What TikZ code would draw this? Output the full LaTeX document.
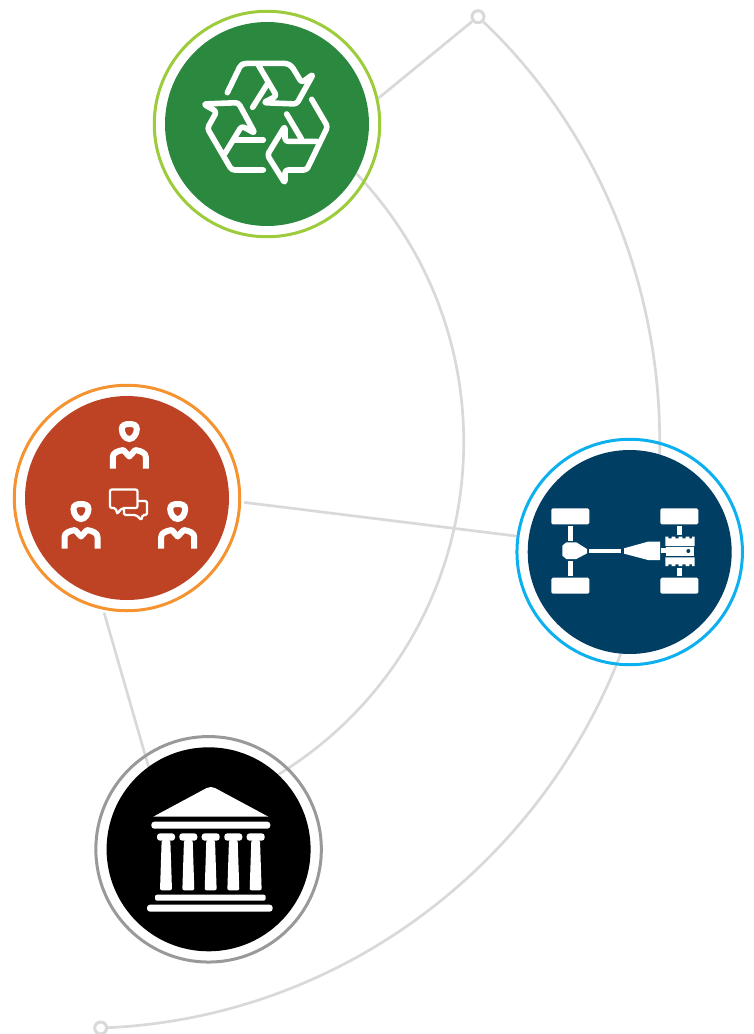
\documentclass[tikz,border=0pt]{standalone}
\usetikzlibrary{backgrounds}
\definecolor{linkgrey}{HTML}{D9D9D9}
\definecolor{leafgreen}{HTML}{2B883F}
\definecolor{leafring}{HTML}{9CCB3B}
\definecolor{brickred}{HTML}{BD4324}
\definecolor{brickring}{HTML}{F59331}
\definecolor{navyblue}{HTML}{003F63}
\definecolor{navyring}{HTML}{0DB0EE}
\definecolor{stonering}{HTML}{999999}
\tikzset{
	disc/.style={circle, fill=#1, minimum size=204pt, inner sep=0pt},
	ring/.style={circle, draw=#1, line width=3pt, minimum size=225.5pt, inner sep=0pt},
	link/.style={draw=linkgrey, line width=2.7pt},
	enddot/.style={circle, draw=linkgrey, fill=white, line width=3pt, minimum size=12pt, inner sep=0pt},
	iconline/.style={draw=white, line width=5.6pt, line cap=round, line join=round, rounded corners=3pt},
	iconfill/.style={fill=white, rounded corners=1.5pt}
}
\begin{document}
\begin{tikzpicture}[x=1pt, y=-1pt]
	\useasboundingbox (0,0) rectangle (753,1034);

	% rings and discs
	\node[ring=leafring] (recycleRing) at (267,124) {};
	\node[disc=leafgreen] (recycle) at (267,124) {};
	\node[ring=brickring] (peopleRing) at (127,498) {};
	\node[disc=brickred] (people) at (127,498) {};
	\node[ring=navyring] (driveRing) at (629.7,552) {};
	\node[disc=navyblue] (drive) at (629.7,552) {};
	\node[ring=stonering] (templeRing) at (208.6,849.3) {};
	\node[disc=black] (temple) at (208.6,849.3) {};

	\node[enddot] (topDot) at (478,16.7) {};
	\node[enddot] (bottomDot) at (100.7,1028) {};

	% connectors, under the rings
	\begin{scope}[on background layer]
		\draw[link] (topDot) to[out=-43.6, in=88.8, looseness=0.889] (drive.73);
		\draw[link] (drive.-95.4) to[out=-111.15, in=2.7, looseness=0.9266] (bottomDot);
		\draw[link] (recycle.-29.7) to[out=-46.5, in=31.6, looseness=1.045] (temple.47.3);
		\draw[link] (recycleRing.13.6) -- (topDot);
		\draw[link, shorten <=3pt] (peopleRing.-2.4) -- (driveRing.172.6);
		\draw[link, shorten <=3pt] (peopleRing.258.3) -- (temple.126);
	\end{scope}

	% recycling arrows
	\begin{scope}[shift={(150,0)}, x=1/3*1pt, y=-1/3*1pt]
		\draw[iconline] (232,278) -- (272,195) -- (285,190) -- (410,190) -- (425,198) -- (455,248) -- (490,222) -- (440,312) -- (340,308) -- (380,288) -- (325,195);
		\draw[iconline] (308,322) -- (352,252);
		\draw[iconline] (340,510) -- (245,510) -- (172,385) -- (200,335) -- (160,312) -- (265,308) -- (315,400) -- (275,378) -- (225,460);
		\draw[iconline] (340,420) -- (255,420);
		\draw[iconline] (485,298) -- (533,380) -- (470,510) -- (405,510) -- (405,550) -- (352,465) -- (405,378) -- (405,424) -- (500,424);
		\draw[iconline] (410,342) -- (455,418);
	\end{scope}

	% three people and the speech bubbles
	\foreach \px/\py in {129.3/0, 81/80, 177.7/80} {
		\begin{scope}[shift={(\px,\py)}]
			\draw[white, line width=6pt] (-7.5,429) .. controls (-7.5,425) and (-4,424) .. (0,424) .. controls (4,424) and (7.5,425) .. (7.5,429) .. controls (7.5,434) and (4,439) .. (0,439) .. controls (-4,439) and (-7.5,434) .. (-7.5,429) -- cycle;
			\draw[white, line width=6pt, line join=round] (-16.5,468.5) -- (-16.5,457) .. controls (-16.5,453) and (-12,451) .. (-6,450) -- (0,456.5) -- (6,450) .. controls (12,451) and (16.5,453) .. (16.5,457) -- (16.5,468.5);
		\end{scope}
	}
	\draw[white, line width=2.3pt, rounded corners=2pt] (110,489.5) -- (137.5,489.5) -- (137.5,508) -- (122,508) -- (117,514) -- (116,508) -- (110,508) -- cycle;
	\draw[white, line width=2.3pt, rounded corners=1.5pt] (138,501) -- (147,501) -- (147,515) -- (142.5,515) -- (141.5,520) -- (136,515) -- (124,515) -- (124,509);

	% drive train
	\begin{scope}[shift={(513,435)}, x=1/3*1pt, y=-1/3*1pt]
		\foreach \wx in {115,442} {
			\foreach \wy in {220,428} {
				\fill[iconfill] (\wx,\wy) rectangle ++(114,48);
			}
		}
		\fill[white] (165,272) rectangle (180,318);
		\fill[white] (165,378) rectangle (180,422);
		\fill[white] (493,272) rectangle (508,300);
		\fill[white] (493,398) rectangle (508,422);
		\fill[white] (148,332) -- (160,322) -- (190,322) -- (222,342) -- (222,355) -- (190,372) -- (160,372) -- (148,362) -- cycle;
		\fill[white] (229,341) rectangle (325,355);
		\fill[white] (333,340) -- (405,320) -- (441,320) -- (441,375) -- (405,375) -- (333,356) -- cycle;
		\fill[white] (445,340) rectangle (458,355);
		\fill[white] (457,333) -- (457,305) -- (466,305) -- (466,310) -- (476,310) -- (476,305) -- (487,305) -- (487,310) -- (497,310) -- (497,305) -- (508,305) -- (508,310) -- (518,310) -- (518,305) -- (529,305) -- (529,310) -- (537,310) -- (537,305) -- (545,305) -- (545,333) -- cycle;
		\fill[white] (457,367) -- (457,393) -- (466,393) -- (466,388) -- (476,388) -- (476,393) -- (487,393) -- (487,388) -- (497,388) -- (497,393) -- (508,393) -- (508,388) -- (518,388) -- (518,393) -- (529,393) -- (529,388) -- (537,388) -- (537,393) -- (545,393) -- (545,367) -- cycle;
		\fill[white] (460,337) rectangle (543,362);
		\fill[navyblue] (526,348) circle[radius=2pt];
	\end{scope}

	% temple
	\begin{scope}[shift={(90,730)}, x=1/3*1pt, y=-1/3*1pt]
		\fill[white] (190,260) -- (350,174) .. controls (357,170) and (368,170) .. (375,174) -- (535,260) -- cycle;
		\fill[white, rounded corners=3pt] (184,275) rectangle (541,296);
		\foreach \cx in {228,295,362,430,497} {
			\fill[white, rounded corners=3pt] (\cx-27,310) rectangle (\cx+27,332);
			\fill[white, rounded corners=2pt] (\cx-13,330) -- (\cx+13,330) -- (\cx+18,481) -- (\cx-18,481) -- cycle;
		}
		\fill[white, rounded corners=2pt] (195,494) rectangle (527,512);
		\fill[white, rounded corners=3pt] (171,524) rectangle (548,545);
	\end{scope}
\end{tikzpicture}
\end{document}
